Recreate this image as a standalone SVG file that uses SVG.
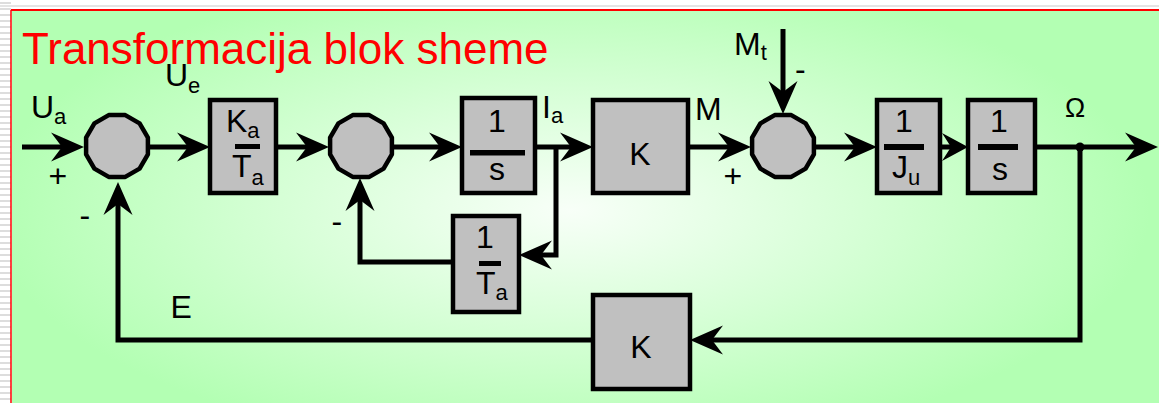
<svg xmlns="http://www.w3.org/2000/svg" xmlns:xlink="http://www.w3.org/1999/xlink" width="1159" height="403" viewBox="0 0 1159 403">
  <defs>
    <style>
      .lbl { font-family: "Liberation Sans", Arial, sans-serif; font-size: 32px; fill: #000; }
      .sub { font-size: 22px; }
      .title { font-family: "Liberation Sans", Arial, sans-serif; font-size: 44px; fill: #ff0000; }
      .blk { fill: #c0c0c0; stroke: #000; stroke-width: 4.5; }
      .sum { fill: #c0c0c0; stroke: #000; stroke-width: 4.5; stroke-linejoin: round; }
      .bar { fill: #000; }
      .wire { fill: none; stroke: #000; stroke-width: 5; stroke-linejoin: miter; }
    </style>
    <radialGradient id="bg" gradientUnits="userSpaceOnUse" cx="570" cy="210" r="580" gradientTransform="translate(570 210) scale(1 0.42) translate(-570 -210)">
      <stop offset="0" stop-color="#f8fff8"/>
      <stop offset="0.5" stop-color="#d6ffd6"/>
      <stop offset="1" stop-color="#b3ffb3"/>
    </radialGradient>
    <pattern id="stripes" patternUnits="userSpaceOnUse" width="10" height="6">
      <rect width="10" height="6" fill="#ffffff"/>
      <rect y="2" width="10" height="2" fill="#dddddd"/>
    </pattern>
    <marker id="arr" markerUnits="userSpaceOnUse" viewBox="-14 -16 40 32" refX="0" refY="0" markerWidth="40" markerHeight="32" orient="auto">
      <path d="M22,0 L-11,-14.5 L0,0 L-11,14.5 Z" fill="#000"/>
    </marker>
    <marker id="arrS" markerUnits="userSpaceOnUse" viewBox="-14 -16 40 32" refX="0" refY="0" markerWidth="40" markerHeight="32" orient="auto">
      <path d="M17,0 L-9,-14 L0,0 L-9,14 Z" fill="#000"/>
    </marker>
    <polygon id="sumShape" points="8.3,-30.9 22.6,-22.6 30.9,-8.3 30.9,8.3 22.6,22.6 8.3,30.9 -8.3,30.9 -22.6,22.6 -30.9,8.3 -30.9,-8.3 -22.6,-22.6 -8.3,-30.9"/>
  </defs>

  <!-- page background -->
  <rect x="0" y="0" width="1159" height="403" fill="#ffffff"/>
  <rect x="0" y="0" width="11" height="403" fill="url(#stripes)"/>
  <rect x="0" y="5" width="1159" height="2" fill="#e4e4e4"/>
  <rect x="12" y="11" width="1147" height="392" fill="url(#bg)"/>
  <line x1="11" y1="10" x2="1159" y2="10" stroke="#ff0000" stroke-width="2"/>
  <line x1="11" y1="10" x2="11" y2="403" stroke="#ff0000" stroke-width="1.5"/>

  <text class="title" x="22" y="64">Transformacija blok sheme</text>

  <!-- connectors -->
  <g id="connectors">
    <path class="wire" d="M22,147 H62" marker-end="url(#arr)"/>
    <path class="wire" d="M149,147 H188" marker-end="url(#arr)"/>
    <path class="wire" d="M276,147 H307" marker-end="url(#arr)"/>
    <path class="wire" d="M393,147 H440" marker-end="url(#arr)"/>
    <path class="wire" d="M535,147 H571" marker-end="url(#arr)"/>
    <path class="wire" d="M556,147 V255 H541" marker-end="url(#arr)"/>
    <path class="wire" d="M453,262 H360 V200" marker-end="url(#arr)"/>
    <path class="wire" d="M688,147 H729" marker-end="url(#arr)"/>
    <path class="wire" d="M783,29 V92" marker-end="url(#arr)"/>
    <path class="wire" d="M815,147 H855" marker-end="url(#arr)"/>
    <path class="wire" d="M1035,147 H1136" marker-end="url(#arr)"/>
    <path class="wire" d="M1080,147 V340 H712" marker-end="url(#arr)"/>
    <path class="wire" d="M593,340 H118 V204" marker-end="url(#arr)"/>
    <circle cx="1080" cy="147" r="4.5" fill="#000"/>
  </g>

  <!-- sum 1 -->
  <g id="sum1">
    <use xlink:href="#sumShape" href="#sumShape" class="sum" transform="translate(117 146)"/>
    <text class="lbl" x="31" y="118">U<tspan class="sub" dy="6">a</tspan></text>
    <text class="lbl" x="48.5" y="186.5">+</text>
    <text class="lbl" x="79.5" y="226">-</text>
    <text class="lbl" x="170.5" y="318">E</text>
  </g>

  <!-- Ka/Ta block -->
  <g id="blockKaTa">
    <rect class="blk" x="210" y="100" width="66" height="93"/>
    <text class="lbl" x="226" y="132">K<tspan class="sub" dy="6">a</tspan></text>
    <rect class="bar" x="235" y="144" width="25" height="5"/>
    <text class="lbl" x="232" y="177">T<tspan class="sub" dy="8">a</tspan></text>
    <text class="lbl" x="165" y="86">U<tspan class="sub" dy="7">e</tspan></text>
  </g>

  <!-- sum 2 -->
  <g id="sum2">
    <use xlink:href="#sumShape" href="#sumShape" class="sum" transform="translate(361 146)"/>
    <text class="lbl" x="331.5" y="232">-</text>
  </g>

  <!-- 1/s block -->
  <g id="blockInt1">
    <rect class="blk" x="462" y="98" width="73" height="95"/>
    <text class="lbl" x="497" y="132" text-anchor="middle">1</text>
    <rect class="bar" x="470" y="150" width="55" height="5.5"/>
    <text class="lbl" x="497" y="180" text-anchor="middle">s</text>
    <text class="lbl" x="542" y="118">I<tspan class="sub" dy="5">a</tspan></text>
  </g>

  <!-- 1/Ta feedback block -->
  <g id="blockTa">
    <rect class="blk" x="453" y="216" width="66" height="96"/>
    <text class="lbl" x="485" y="248" text-anchor="middle">1</text>
    <rect class="bar" x="479" y="261" width="22" height="5"/>
    <text class="lbl" x="476" y="294">T<tspan class="sub" dy="6">a</tspan></text>
  </g>

  <!-- K block (forward) -->
  <g id="blockK1">
    <rect class="blk" x="593" y="100" width="95" height="93"/>
    <text class="lbl" x="640" y="165" text-anchor="middle">K</text>
    <text class="lbl" x="695" y="120">M</text>
  </g>

  <!-- sum 3 -->
  <g id="sum3">
    <use xlink:href="#sumShape" href="#sumShape" class="sum" transform="translate(783 146)"/>
    <text class="lbl" x="734" y="55">M<tspan class="sub" dy="5">t</tspan></text>
    <text class="lbl" x="795" y="80">-</text>
    <text class="lbl" x="723.5" y="187">+</text>
  </g>

  <!-- 1/Ju block -->
  <g id="blockJu">
    <rect class="blk" x="877" y="100" width="63" height="93"/>
    <text class="lbl" x="904" y="132" text-anchor="middle">1</text>
    <rect class="bar" x="884" y="144" width="40" height="6"/>
    <text class="lbl" x="892" y="178">J<tspan class="sub" dy="7">u</tspan></text>
  </g>

  <!-- 1/s block 2 -->
  <g id="blockInt2">
    <rect class="blk" x="968" y="100" width="67" height="93"/>
    <text class="lbl" x="999" y="132" text-anchor="middle">1</text>
    <rect class="bar" x="978" y="144" width="40" height="6"/>
    <text class="lbl" x="1000" y="180" text-anchor="middle">s</text>
    <text class="lbl" x="1075" y="117" text-anchor="middle" style="font-size:27px">Ω</text>
  </g>

  <!-- short connector between 1/Ju and 1/s, drawn over the block edges -->
  <g id="connectorJuS">
    <path class="wire" d="M941,147 H951" marker-end="url(#arrS)"/>
  </g>

  <!-- K block (feedback) -->
  <g id="blockK2">
    <rect class="blk" x="593" y="295" width="97" height="94"/>
    <text class="lbl" x="641" y="358" text-anchor="middle">K</text>
  </g>
</svg>
